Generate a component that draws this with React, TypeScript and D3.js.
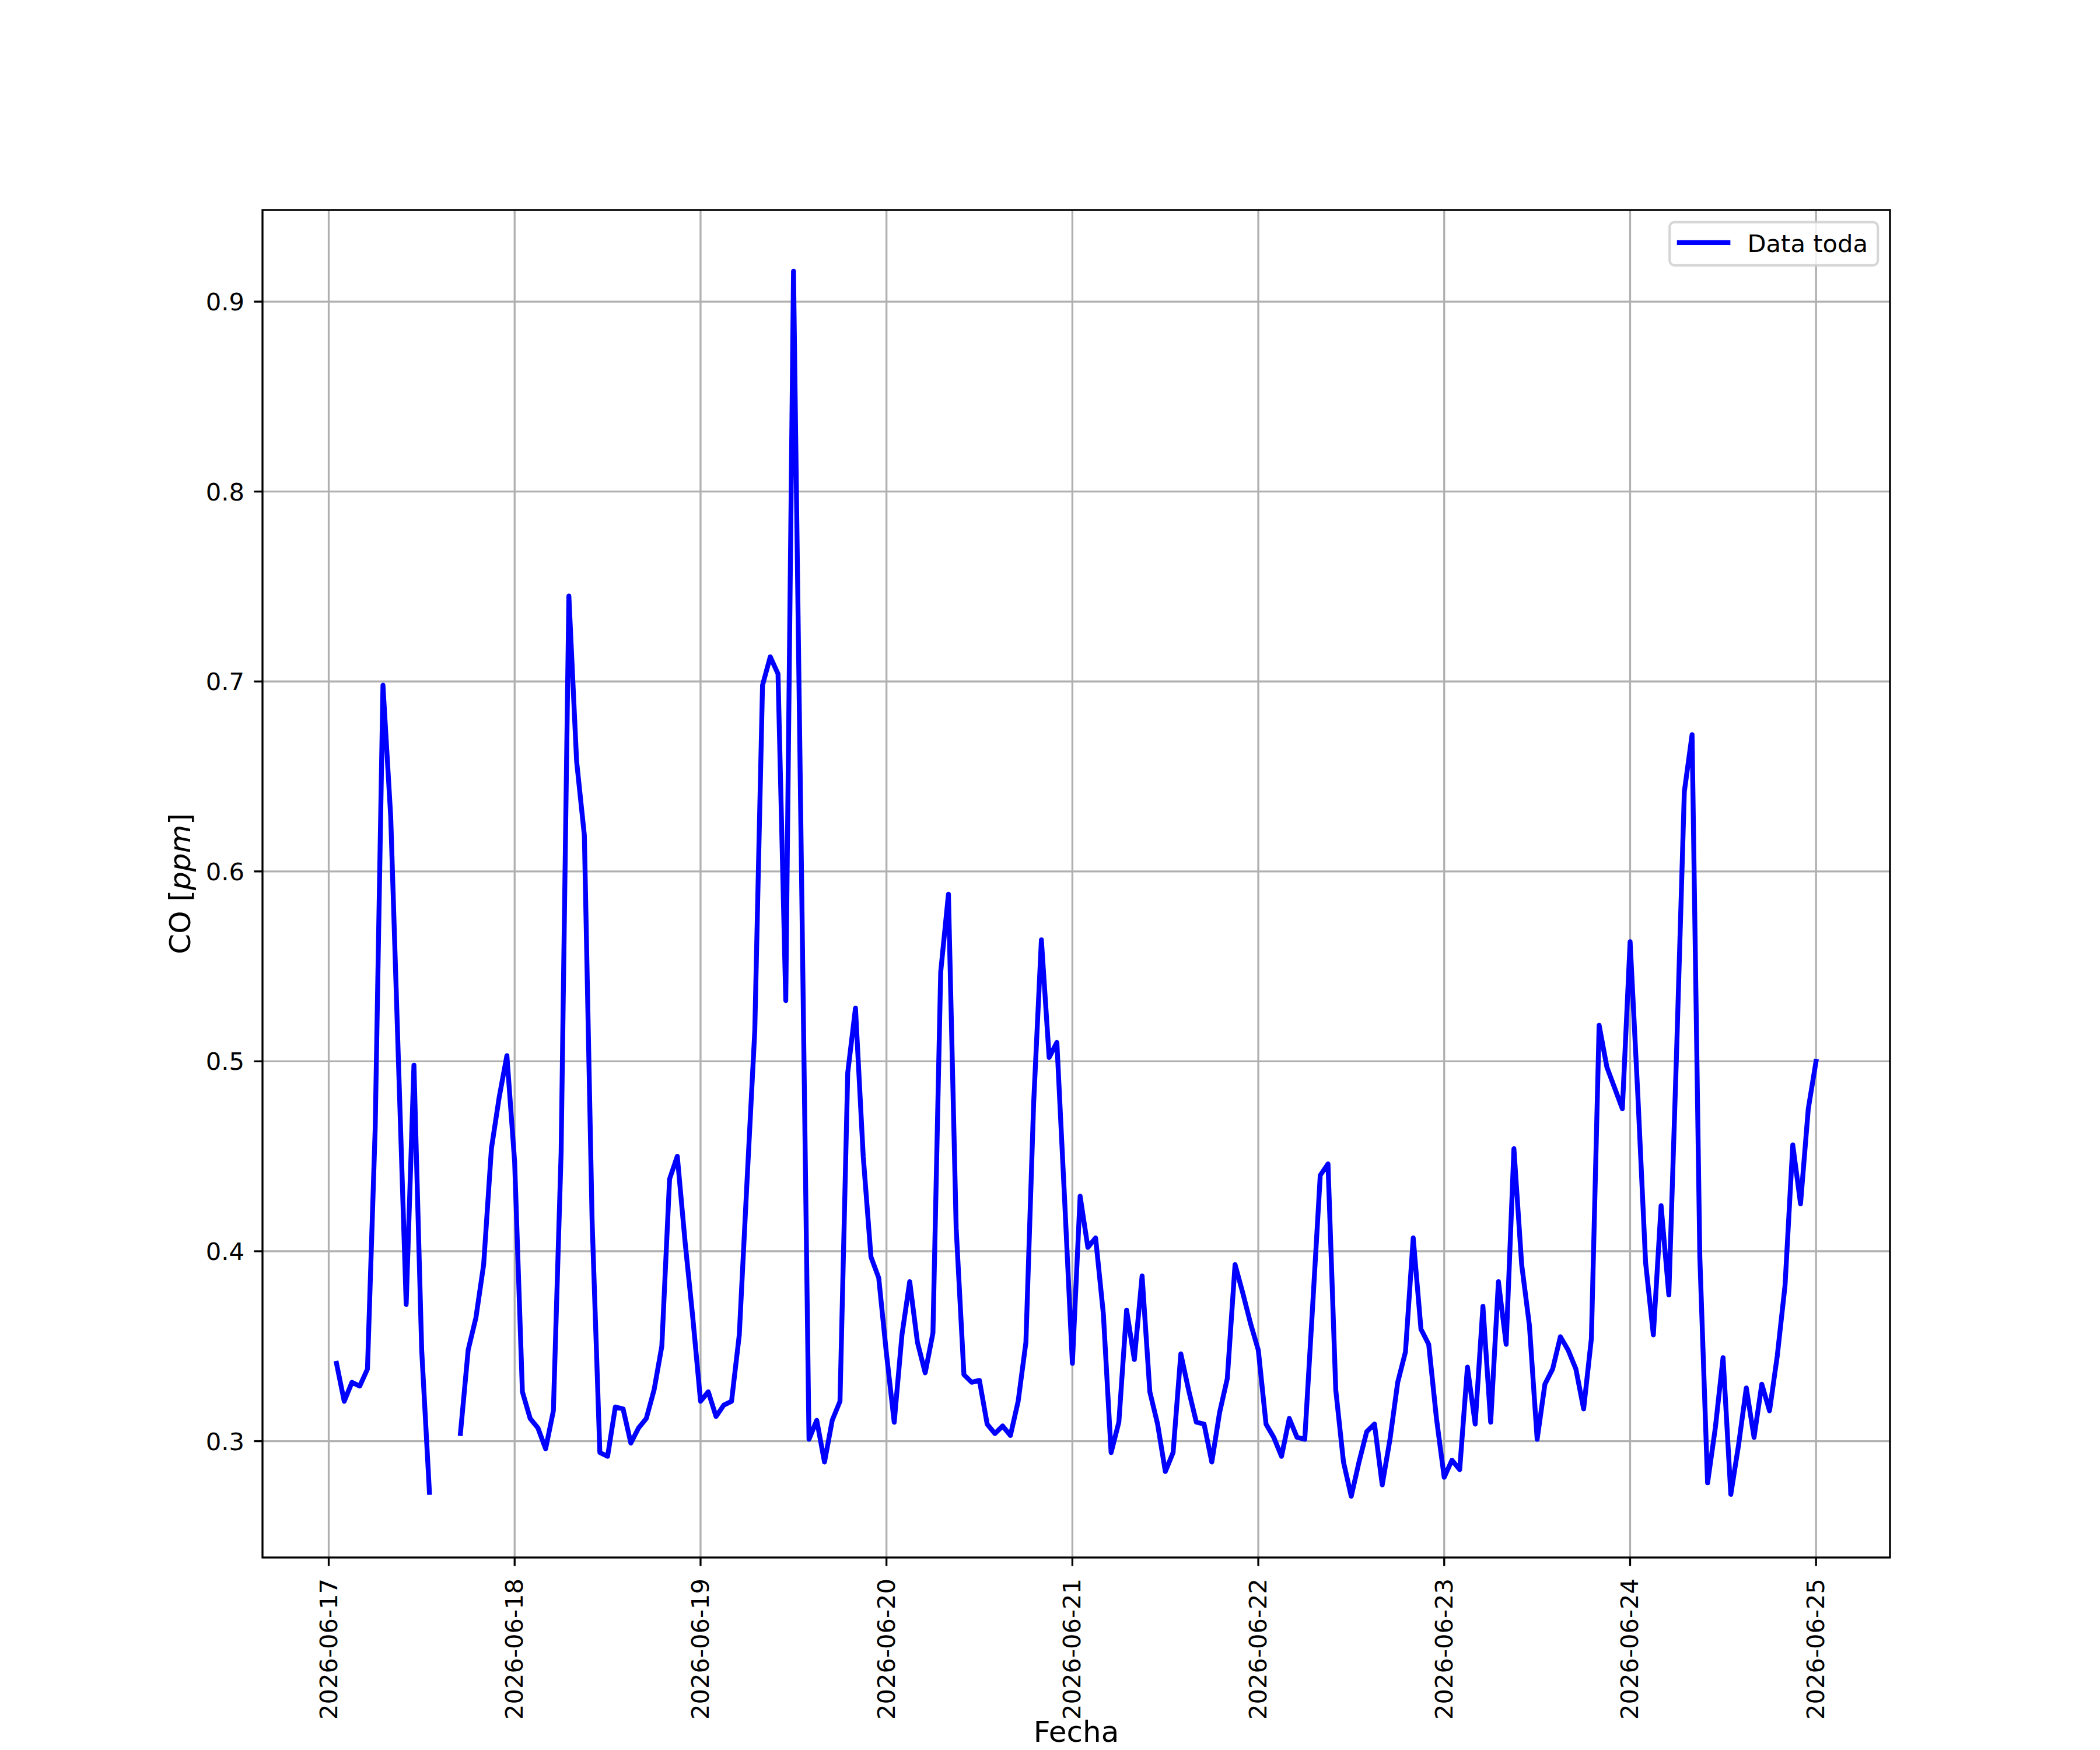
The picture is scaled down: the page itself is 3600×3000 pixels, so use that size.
import * as d3 from 'd3'

// hourly CO readings (ppm), index = hour of the day, null = no data
const days = ['2026-06-17', '2026-06-18', '2026-06-19', '2026-06-20', '2026-06-21', '2026-06-22', '2026-06-23', '2026-06-24', '2026-06-25']
const co17 = [null, 0.341, 0.321, 0.331, 0.329, 0.338, 0.465, 0.698, 0.629, 0.500, 0.372, 0.498, 0.348, 0.273, null, null, null, 0.304, 0.348, 0.365, 0.393, 0.454, 0.481, 0.503]
const co18 = [0.447, 0.326, 0.312, 0.307, 0.296, 0.316, 0.452, 0.745, 0.658, 0.619, 0.416, 0.294, 0.292, 0.318, 0.317, 0.299, 0.307, 0.312, 0.327, 0.350, 0.438, 0.450, 0.405, 0.365]
const co19 = [0.321, 0.326, 0.313, 0.319, 0.321, 0.356, 0.437, 0.516, 0.698, 0.713, 0.704, 0.532, 0.916, 0.609, 0.301, 0.311, 0.289, 0.311, 0.321, 0.494, 0.528, 0.450, 0.397, 0.386]
const co20 = [0.346, 0.310, 0.356, 0.384, 0.352, 0.336, 0.357, 0.547, 0.588, 0.412, 0.335, 0.331, 0.332, 0.309, 0.304, 0.308, 0.303, 0.321, 0.352, 0.478, 0.564, 0.502, 0.510, 0.427]
const co21 = [0.341, 0.429, 0.402, 0.407, 0.367, 0.294, 0.310, 0.369, 0.343, 0.387, 0.326, 0.309, 0.284, 0.294, 0.346, 0.327, 0.310, 0.309, 0.289, 0.315, 0.333, 0.393, 0.378, 0.362]
const co22 = [0.348, 0.309, 0.302, 0.292, 0.312, 0.302, 0.301, 0.370, 0.440, 0.446, 0.327, 0.289, 0.271, 0.289, 0.305, 0.309, 0.277, 0.301, 0.331, 0.347, 0.407, 0.359, 0.351, 0.312]
const co23 = [0.281, 0.290, 0.285, 0.339, 0.309, 0.371, 0.310, 0.384, 0.351, 0.454, 0.393, 0.361, 0.301, 0.330, 0.338, 0.355, 0.348, 0.338, 0.317, 0.354, 0.519, 0.497, 0.486, 0.475]
const co24 = [0.563, 0.482, 0.394, 0.356, 0.424, 0.377, 0.505, 0.642, 0.672, 0.397, 0.278, 0.307, 0.344, 0.272, 0.298, 0.328, 0.302, 0.330, 0.316, 0.345, 0.382, 0.456, 0.425, 0.475]
const co25 = [0.500]
const series = [co17, co18, co19, co20, co21, co22, co23, co24, co25]

const yTicks = [0.3, 0.4, 0.5, 0.6, 0.7, 0.8, 0.9]
const seriesLabel = 'Data toda'

type Pt = { t: Date; v: number | null }

const points: Pt[] = []
series.forEach((vals, d) => {
  const base = Date.parse(days[d] + 'T00:00:00Z')
  vals.forEach((v, h) => points.push({ t: new Date(base + h * 3600e3), v }))
})

const W = 3600, H = 3000
const L = 450, R = 3240, T = 360, B = 2670
const FS = 41.67, LFS = 50
const FONT = '"DejaVu Sans", sans-serif'
const LW = 8.33

// matplotlib-style 5% margins
const defined = points.filter(p => p.v != null)
const [t0, t1] = d3.extent(defined, p => +p.t) as [number, number]
const [v0, v1] = d3.extent(defined, p => p.v as number) as [number, number]
const tp = (t1 - t0) * 0.05, vp = (v1 - v0) * 0.05

const x = d3.scaleUtc().domain([new Date(t0 - tp), new Date(t1 + tp)]).range([L, R])
const y = d3.scaleLinear().domain([v0 - vp, v1 + vp]).range([B, T])

const line = d3.line<Pt>()
  .defined(p => p.v != null)
  .x(p => x(p.t))
  .y(p => y(p.v as number))

const fmt = d3.format('.1f')

export default function App() {
  const dayTicks = days.map(d => new Date(d + 'T00:00:00Z'))
  const legW = 357, legH = 74
  const legX = R - 20.8 - legW, legY = T + 20.8
  return (
    <svg width={W} height={H} style={{ position: 'absolute', left: 0, top: 0, background: '#fff' }}
      fontFamily={FONT} fontSize={FS}>
      <rect x={0} y={0} width={W} height={H} fill="#fff" />
      {/* grid */}
      <g stroke="#b0b0b0" strokeWidth={3.33}>
        {dayTicks.map((d, i) => <line key={'gx' + i} x1={x(d)} x2={x(d)} y1={T} y2={B} />)}
        {yTicks.map((v, i) => <line key={'gy' + i} x1={L} x2={R} y1={y(v)} y2={y(v)} />)}
      </g>
      {/* data */}
      <path d={line(points) || ''} fill="none" stroke="#0000ff" strokeWidth={LW}
        strokeLinejoin="round" strokeLinecap="square" />
      {/* spines */}
      <rect x={L} y={T} width={R - L} height={B - T} fill="none" stroke="#000" strokeWidth={3.33} />
      {/* x ticks */}
      <g>
        {dayTicks.map((d, i) => (
          <g key={'xt' + i}>
            <line x1={x(d)} x2={x(d)} y1={B} y2={B + 14.6} stroke="#000" strokeWidth={3.33} />
            <text transform={`translate(${x(d) + 14},${B + 36}) rotate(-90)`} textAnchor="end">{days[i]}</text>
          </g>
        ))}
      </g>
      {/* y ticks */}
      <g>
        {yTicks.map((v, i) => (
          <g key={'yt' + i}>
            <line x1={L - 14.6} x2={L} y1={y(v)} y2={y(v)} stroke="#000" strokeWidth={3.33} />
            <text x={L - 31} y={y(v) + 15} textAnchor="end">{fmt(v)}</text>
          </g>
        ))}
      </g>
      {/* axis labels */}
      <text x={(L + R) / 2} y={2986} textAnchor="middle" fontSize={LFS}>Fecha</text>
      <text transform={`translate(326,${(T + B) / 2}) rotate(-90)`} textAnchor="middle" fontSize={LFS}>
        CO [<tspan fontStyle="italic">ppm</tspan>]
      </text>
      {/* legend */}
      <g>
        <rect x={legX} y={legY} width={legW} height={legH} rx={8.3} ry={8.3}
          fill="#fff" fillOpacity={0.8} stroke="#cccccc" strokeOpacity={0.8} strokeWidth={4.17} />
        <line x1={legX + 16.7} x2={legX + 16.7 + 83.3} y1={legY + 35} y2={legY + 35}
          stroke="#0000ff" strokeWidth={LW} strokeLinecap="square" />
        <text x={legX + 16.7 + 83.3 + 33.3} y={legY + 51}>{seriesLabel}</text>
      </g>
    </svg>
  )
}
